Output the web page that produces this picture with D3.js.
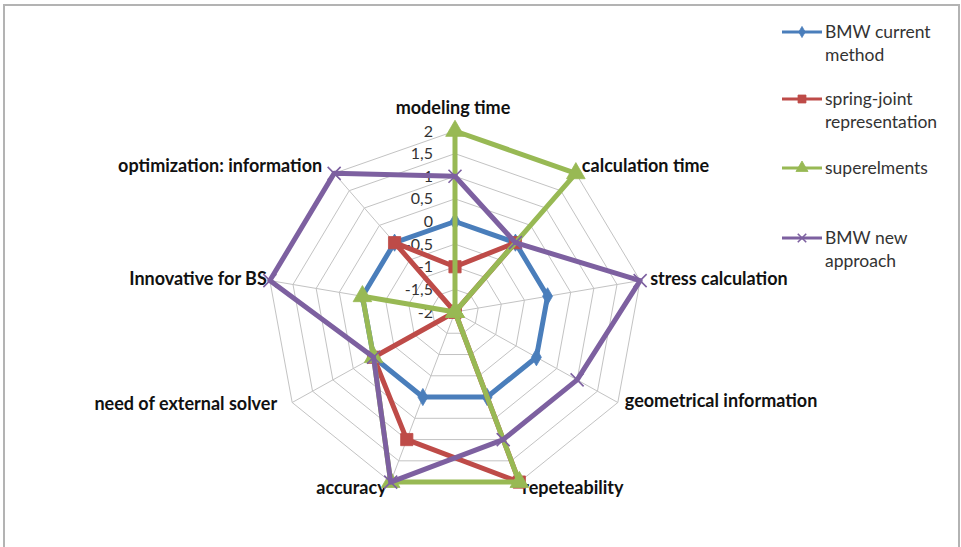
<!DOCTYPE html>
<html>
<head>
<meta charset="utf-8">
<script src="https://cdn.jsdelivr.net/npm/d3@7"></script>
<style>
  html, body { margin: 0; padding: 0; background: #fff; }
  svg { display: block; }
</style>
</head>
<body>
<svg id="chart" width="961" height="547"></svg>
<script>
// Axes of the radar, clockwise from the top
const categories = [
  "modeling time",
  "calculation time",
  "stress calculation",
  "geometrical information",
  "repeteability",
  "accuracy",
  "need of external solver",
  "Innovative for BS",
  "optimization: information"
];

// Scores per method (scale -2 .. 2)
const bmwCurrent     = [0, 0, 0, 0, 0, 0, 0, 0, 0];
const springJoint    = [-1, 0, -2, -2, 2, 1, 0, -2, 0];
const superelements  = [2, 2, -2, -2, 2, 2, 0, 0, -2];
const bmwNew         = [1, 0, 2, 1, 1, 2, 0, 2, 2];

const seriesNames = ["BMW current method", "spring-joint representation", "superelments", "BMW new approach"];
const legendLines = [["BMW current", "method"], ["spring-joint", "representation"], ["superelments"], ["BMW new", "approach"]];

const tickValues = [-2, -1.5, -1, -0.5, 0, 0.5, 1, 1.5, 2];
const tickLabels = ["-2", "-1,5", "-1", "-0,5", "0", "0,5", "1", "1,5", "2"];

// ---- layout ----
const svg = d3.select("#chart");
const cx = 455, cy = 312;
const rx = d3.scaleLinear().domain([-2, 2]).range([0, 188]);
const ry = d3.scaleLinear().domain([-2, 2]).range([0, 181]);
const angle = d3.scaleLinear().domain([0, categories.length]).range([0, 2 * Math.PI]);

const px = (i, v) => cx + rx(v) * Math.sin(angle(i));
const py = (i, v) => cy - ry(v) * Math.cos(angle(i));

const series = [
  { name: seriesNames[0], values: bmwCurrent,    color: "#4a7ebb", marker: "diamond" },
  { name: seriesNames[1], values: springJoint,   color: "#be4b48", marker: "square" },
  { name: seriesNames[2], values: superelements, color: "#98b954", marker: "triangle" },
  { name: seriesNames[3], values: bmwNew,        color: "#7d60a0", marker: "cross" }
];

// outer frame
svg.append("rect")
  .attr("x", 4).attr("y", 5).attr("width", 955).attr("height", 560)
  .attr("fill", "#fff").attr("stroke", "#b3b3b3").attr("stroke-width", 2);

// grid rings
const grid = svg.append("g").attr("fill", "none").attr("stroke", "#c3c3c3").attr("stroke-width", 1);
tickValues.slice(1).forEach(t => {
  const pts = categories.map((c, i) => [px(i, t), py(i, t)]);
  grid.append("path").attr("d", d3.line()(pts) + "Z");
});
// spokes
categories.forEach((c, i) => {
  grid.append("line")
    .attr("x1", px(i, -2)).attr("y1", py(i, -2))
    .attr("x2", px(i, 2)).attr("y2", py(i, 2));
});

// value labels along the first axis
svg.append("g")
  .selectAll("text")
  .data(tickValues)
  .join("text")
  .attr("x", (d) => px(0, d) - 22)
  .attr("y", (d) => py(0, d))
  .attr("dy", "0.35em")
  .attr("text-anchor", "end")
  .attr("font-family", "Lato, 'Open Sans', sans-serif")
  .attr("font-size", 16)
  .attr("fill", "#333")
  .text((d, i) => tickLabels[i]);

// category labels
const labelNudge = [[-2, -23], [6, -8], [10, -2], [7, -2], [3, 6], [-4, 6], [-15, 1], [-3, -2], [-12, -8]];
svg.append("g")
  .selectAll("text")
  .data(categories)
  .join("text")
  .attr("x", (d, i) => px(i, 2) + labelNudge[i][0])
  .attr("y", (d, i) => py(i, 2) + labelNudge[i][1])
  .attr("dy", "0.35em")
  .attr("text-anchor", (d, i) => {
    const s = Math.sin(angle(i));
    return s > 0.1 ? "start" : (s < -0.1 ? "end" : "middle");
  })
  .attr("font-family", "Lato, 'Open Sans', sans-serif")
  .attr("font-weight", "bold")
  .attr("font-size", 18)
  .attr("fill", "#111")
  .text(d => d);

// marker shapes
function markerPath(kind, scale) {
  const k = scale || 1;
  if (kind === "diamond") return d3.symbol(d3.symbolDiamond, 85 * k * k)();
  if (kind === "square") return d3.symbol(d3.symbolSquare, 150 * k * k)();
  if (kind === "triangle") return d3.symbol(d3.symbolTriangle, 150 * k * k)();
  const h = 6.5 * k;
  return `M${-h},${-h}L${h},${h}M${-h},${h}L${h},${-h}`;
}
function drawMarker(sel, kind, color, scale) {
  const p = sel.append("path").attr("d", markerPath(kind, scale));
  if (kind === "cross") p.attr("fill", "none").attr("stroke", color).attr("stroke-width", 1.6);
  else p.attr("fill", color).attr("stroke", color).attr("stroke-width", 0.8);
  return p;
}

// series
const radial = d3.line().curve(d3.curveLinearClosed);
series.forEach(s => {
  const g = svg.append("g");
  const pts = s.values.map((v, i) => [px(i, v), py(i, v)]);
  g.append("path")
    .attr("d", radial(pts))
    .attr("fill", "none")
    .attr("stroke", s.color)
    .attr("stroke-width", 5)
    .attr("stroke-linejoin", "round");
  pts.forEach(p => {
    const m = g.append("g").attr("transform", `translate(${p[0]},${p[1]})`);
    drawMarker(m, s.marker, s.color, 1);
  });
});

// legend
const legend = svg.append("g");
const legendY = [32, 99, 168, 238];
series.forEach((s, i) => {
  const g = legend.append("g").attr("transform", `translate(782,${legendY[i]})`);
  g.append("line").attr("x1", 0).attr("x2", 40).attr("y1", 0).attr("y2", 0)
    .attr("stroke", s.color).attr("stroke-width", 3);
  const m = g.append("g").attr("transform", "translate(20,0)");
  drawMarker(m, s.marker, s.color, 0.65);
  const t = g.append("text")
    .attr("x", 43).attr("y", 0)
    .attr("font-family", "Lato, 'Open Sans', sans-serif")
    .attr("font-size", 17.5)
    .attr("fill", "#333");
  legendLines[i].forEach((line, j) => {
    t.append("tspan").attr("x", 43).attr("dy", j === 0 ? "0.35em" : "1.3em").text(line);
  });
});
</script>
</body>
</html>
